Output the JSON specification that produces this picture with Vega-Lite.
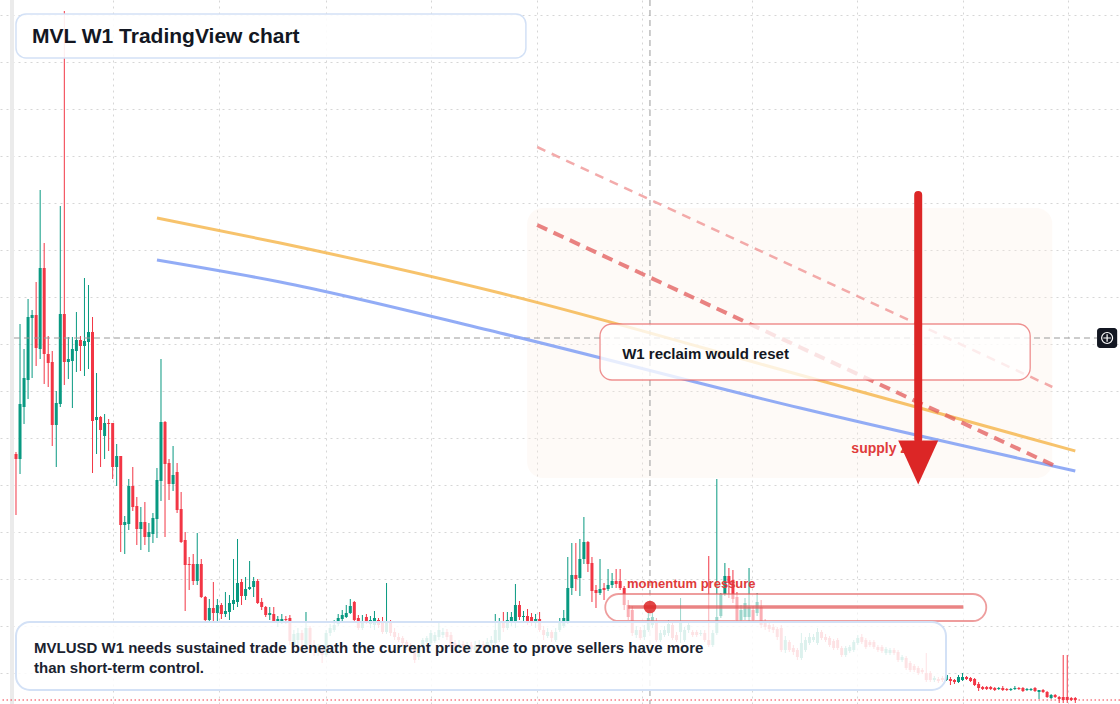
{
"$schema": "https://vega.github.io/schema/vega-lite/v6.json",
"width": 1120, "height": 704,
"autosize": {"type": "none"},
"padding": 0,
"background": "#ffffff",
"config": {"view": {"stroke": null}},
"datasets": {
"candles": [
{"i":0,"o":266,"h":268,"l":205,"c":261},{"i":1,"o":261,"h":396,"l":246,"c":316},{"i":2,"o":313,"h":371,"l":296,"c":342},{"i":3,"o":340,"h":421,"l":321,"c":403},{"i":4,"o":402,"h":410,"l":342,"c":405},{"i":5,"o":405,"h":438,"l":354,"c":372},{"i":6,"o":371,"h":530,"l":361,"c":452},{"i":7,"o":452,"h":477,"l":336,"c":366},{"i":8,"o":366,"h":384,"l":333,"c":357},{"i":9,"o":358,"h":369,"l":274,"c":295},
{"i":10,"o":295,"h":329,"l":253,"c":317},{"i":11,"o":316,"h":514,"l":313,"c":406},{"i":12,"o":406,"h":709,"l":335,"c":358},{"i":13,"o":358,"h":383,"l":341,"c":361},{"i":14,"o":359,"h":383,"l":312,"c":371},{"i":15,"o":369,"h":408,"l":348,"c":380},{"i":16,"o":380,"h":384,"l":349,"c":374},{"i":17,"o":374,"h":442,"l":344,"c":379},{"i":18,"o":378,"h":435,"l":351,"c":388},{"i":19,"o":388,"h":403,"l":247,"c":299},
{"i":20,"o":300,"h":347,"l":266,"c":303},{"i":21,"o":303,"h":304,"l":253,"c":290},{"i":22,"o":284,"h":306,"l":261,"c":297},{"i":23,"o":297,"h":301,"l":269,"c":296},{"i":24,"o":297,"h":297,"l":241,"c":253},{"i":25,"o":253,"h":276,"l":234,"c":264},{"i":26,"o":264,"h":264,"l":168,"c":195},{"i":27,"o":195,"h":204,"l":166,"c":198},{"i":28,"o":196,"h":241,"l":190,"c":234},{"i":29,"o":234,"h":253,"l":209,"c":213},
{"i":30,"o":214,"h":223,"l":175,"c":191},{"i":31,"o":191,"h":213,"l":170,"c":198},{"i":32,"o":198,"h":218,"l":175,"c":183},{"i":33,"o":183,"h":197,"l":168,"c":188},{"i":34,"o":186,"h":207,"l":177,"c":202},{"i":35,"o":201,"h":252,"l":182,"c":240},{"i":36,"o":239,"h":361,"l":219,"c":298},{"i":37,"o":298,"h":299,"l":183,"c":256},{"i":38,"o":257,"h":261,"l":220,"c":236},{"i":39,"o":236,"h":274,"l":229,"c":245},
{"i":40,"o":248,"h":257,"l":207,"c":210},{"i":41,"o":211,"h":228,"l":177,"c":178},{"i":42,"o":180,"h":188,"l":109,"c":155},{"i":43,"o":156,"h":163,"l":130,"c":155},{"i":44,"o":156,"h":166,"l":135,"c":139},{"i":45,"o":139,"h":187,"l":135,"c":156},{"i":46,"o":156,"h":161,"l":122,"c":123},{"i":47,"o":123,"h":124,"l":98,"c":100},{"i":48,"o":100,"h":121,"l":98,"c":112},{"i":49,"o":112,"h":138,"l":98,"c":107},
{"i":50,"o":107,"h":121,"l":98,"c":115},{"i":51,"o":115,"h":117,"l":101,"c":106},{"i":52,"o":106,"h":128,"l":103,"c":109},{"i":53,"o":108,"h":125,"l":100,"c":117},{"i":54,"o":116,"h":161,"l":110,"c":120},{"i":55,"o":118,"h":181,"l":113,"c":137},{"i":56,"o":138,"h":141,"l":115,"c":124},{"i":57,"o":124,"h":143,"l":120,"c":131},{"i":58,"o":131,"h":159,"l":130,"c":133},{"i":59,"o":133,"h":143,"l":123,"c":139},
{"i":60,"o":139,"h":141,"l":116,"c":117},{"i":61,"o":118,"h":122,"l":110,"c":113},{"i":62,"o":113,"h":114,"l":103,"c":105},{"i":63,"o":105,"h":113,"l":100,"c":107},{"i":64,"o":106,"h":113,"l":98,"c":99},{"i":65,"o":99,"h":104,"l":93,"c":101},{"i":66,"o":99,"h":106,"l":96,"c":101},{"i":67,"o":101,"h":104,"l":96,"c":100},{"i":68,"o":102,"h":105,"l":75,"c":79},{"i":69,"o":75,"h":90,"l":72,"c":86},
{"i":70,"o":80,"h":92,"l":75,"c":87},{"i":71,"o":87,"h":90,"l":74,"c":80},{"i":72,"o":75,"h":108,"l":72,"c":92},{"i":73,"o":92,"h":94,"l":70,"c":75},{"i":74,"o":75,"h":80,"l":64,"c":70},{"i":75,"o":68,"h":76,"l":64,"c":72},{"i":76,"o":72,"h":75,"l":57,"c":65},{"i":77,"o":65,"h":90,"l":63,"c":87},{"i":78,"o":87,"h":96,"l":84,"c":92},{"i":79,"o":90,"h":100,"l":88,"c":95},
{"i":80,"o":96,"h":106,"l":94,"c":102},{"i":81,"o":101,"h":110,"l":99,"c":105},{"i":82,"o":103,"h":115,"l":102,"c":107},{"i":83,"o":107,"h":121,"l":106,"c":114},{"i":84,"o":118,"h":119,"l":99,"c":100},{"i":85,"o":102,"h":105,"l":90,"c":92},{"i":86,"o":92,"h":105,"l":90,"c":98},{"i":87,"o":103,"h":106,"l":96,"c":98},{"i":88,"o":96,"h":104,"l":92,"c":100},{"i":89,"o":95,"h":109,"l":90,"c":102},
{"i":90,"o":100,"h":102,"l":92,"c":95},{"i":91,"o":98,"h":103,"l":86,"c":88},{"i":92,"o":88,"h":137,"l":86,"c":98},{"i":93,"o":98,"h":100,"l":84,"c":87},{"i":94,"o":88,"h":92,"l":80,"c":83},{"i":95,"o":83,"h":87,"l":78,"c":80},{"i":96,"o":82,"h":84,"l":74,"c":77},{"i":97,"o":78,"h":80,"l":70,"c":73},{"i":98,"o":75,"h":77,"l":68,"c":72},{"i":99,"o":72,"h":74,"l":57,"c":60},
{"i":100,"o":63,"h":75,"l":60,"c":73},{"i":101,"o":75,"h":82,"l":72,"c":80},{"i":102,"o":78,"h":84,"l":75,"c":82},{"i":103,"o":77,"h":90,"l":74,"c":87},{"i":104,"o":79,"h":88,"l":77,"c":85},{"i":105,"o":83,"h":97,"l":80,"c":90},{"i":106,"o":85,"h":92,"l":82,"c":88},{"i":107,"o":88,"h":91,"l":80,"c":83},{"i":108,"o":85,"h":88,"l":72,"c":75},{"i":109,"o":77,"h":80,"l":70,"c":74},
{"i":110,"o":72,"h":80,"l":69,"c":76},{"i":111,"o":76,"h":79,"l":68,"c":72},{"i":112,"o":70,"h":78,"l":68,"c":75},{"i":113,"o":75,"h":78,"l":68,"c":71},{"i":114,"o":70,"h":79,"l":68,"c":74},{"i":115,"o":73,"h":80,"l":70,"c":76},{"i":116,"o":76,"h":79,"l":68,"c":72},{"i":117,"o":72,"h":82,"l":70,"c":78},{"i":118,"o":77,"h":84,"l":74,"c":80},{"i":119,"o":77,"h":106,"l":75,"c":90},
{"i":120,"o":80,"h":102,"l":78,"c":98},{"i":121,"o":98,"h":108,"l":88,"c":92},{"i":122,"o":92,"h":108,"l":90,"c":100},{"i":123,"o":98,"h":108,"l":94,"c":103},{"i":124,"o":98,"h":136,"l":92,"c":115},{"i":125,"o":115,"h":119,"l":100,"c":103},{"i":126,"o":103,"h":109,"l":98,"c":104},{"i":127,"o":104,"h":111,"l":95,"c":99},{"i":128,"o":103,"h":107,"l":94,"c":99},{"i":129,"o":98,"h":106,"l":92,"c":101},
{"i":130,"o":101,"h":108,"l":88,"c":90},{"i":131,"o":90,"h":94,"l":80,"c":85},{"i":132,"o":84,"h":92,"l":82,"c":88},{"i":133,"o":88,"h":90,"l":78,"c":82},{"i":134,"o":80,"h":92,"l":78,"c":88},{"i":135,"o":90,"h":102,"l":88,"c":98},{"i":136,"o":94,"h":110,"l":92,"c":102},{"i":137,"o":98,"h":163,"l":96,"c":132},{"i":138,"o":132,"h":177,"l":125,"c":145},{"i":139,"o":145,"h":177,"l":129,"c":141},
{"i":140,"o":142,"h":181,"l":124,"c":161},{"i":141,"o":161,"h":203,"l":156,"c":178},{"i":142,"o":178,"h":179,"l":148,"c":156},{"i":143,"o":157,"h":163,"l":118,"c":129},{"i":144,"o":130,"h":135,"l":112,"c":127},{"i":145,"o":127,"h":161,"l":125,"c":131},{"i":146,"o":132,"h":137,"l":120,"c":130},{"i":147,"o":131,"h":151,"l":129,"c":135},{"i":148,"o":135,"h":147,"l":132,"c":139},{"i":149,"o":139,"h":151,"l":132,"c":136},
{"i":150,"o":139,"h":151,"l":130,"c":132},{"i":151,"o":132,"h":134,"l":110,"c":115},{"i":152,"o":115,"h":120,"l":100,"c":103},{"i":153,"o":110,"h":114,"l":84,"c":87},{"i":154,"o":85,"h":94,"l":82,"c":90},{"i":155,"o":90,"h":93,"l":80,"c":82},{"i":156,"o":83,"h":95,"l":80,"c":90},{"i":157,"o":90,"h":108,"l":88,"c":102},{"i":158,"o":95,"h":107,"l":92,"c":103},{"i":159,"o":98,"h":102,"l":78,"c":80},
{"i":160,"o":80,"h":90,"l":78,"c":87},{"i":161,"o":85,"h":94,"l":83,"c":90},{"i":162,"o":87,"h":100,"l":84,"c":96},{"i":163,"o":95,"h":98,"l":80,"c":82},{"i":164,"o":85,"h":88,"l":78,"c":80},{"i":165,"o":88,"h":122,"l":77,"c":97},{"i":166,"o":80,"h":93,"l":78,"c":90},{"i":167,"o":90,"h":98,"l":87,"c":95},{"i":168,"o":88,"h":90,"l":83,"c":85},{"i":169,"o":88,"h":90,"l":83,"c":85},
{"i":170,"o":86,"h":90,"l":84,"c":87},{"i":171,"o":87,"h":90,"l":78,"c":80},{"i":172,"o":80,"h":164,"l":73,"c":75},{"i":173,"o":75,"h":90,"l":73,"c":87},{"i":174,"o":87,"h":241,"l":85,"c":103},{"i":175,"o":104,"h":127,"l":102,"c":126},{"i":176,"o":126,"h":157,"l":124,"c":144},{"i":177,"o":144,"h":152,"l":122,"c":137},{"i":178,"o":140,"h":150,"l":117,"c":121},{"i":179,"o":123,"h":128,"l":98,"c":100},
{"i":180,"o":100,"h":115,"l":98,"c":110},{"i":181,"o":103,"h":122,"l":100,"c":117},{"i":182,"o":103,"h":152,"l":98,"c":113},{"i":183,"o":110,"h":114,"l":98,"c":100},{"i":184,"o":107,"h":127,"l":104,"c":118},{"i":185,"o":113,"h":120,"l":92,"c":95},{"i":186,"o":98,"h":101,"l":90,"c":93},{"i":187,"o":95,"h":98,"l":88,"c":91},{"i":188,"o":93,"h":96,"l":87,"c":90},{"i":189,"o":91,"h":93,"l":80,"c":83},
{"i":190,"o":92,"h":95,"l":68,"c":70},{"i":191,"o":70,"h":84,"l":67,"c":80},{"i":192,"o":78,"h":80,"l":68,"c":70},{"i":193,"o":72,"h":75,"l":65,"c":68},{"i":194,"o":70,"h":72,"l":60,"c":63},{"i":195,"o":62,"h":87,"l":60,"c":77},{"i":196,"o":70,"h":83,"l":68,"c":80},{"i":197,"o":77,"h":87,"l":75,"c":83},{"i":198,"o":80,"h":86,"l":78,"c":83},{"i":199,"o":77,"h":92,"l":75,"c":88},
{"i":200,"o":88,"h":90,"l":80,"c":82},{"i":201,"o":83,"h":86,"l":78,"c":80},{"i":202,"o":82,"h":84,"l":73,"c":75},{"i":203,"o":79,"h":81,"l":70,"c":72},{"i":204,"o":80,"h":82,"l":70,"c":72},{"i":205,"o":72,"h":74,"l":63,"c":65},{"i":206,"o":65,"h":74,"l":63,"c":72},{"i":207,"o":69,"h":75,"l":67,"c":73},{"i":208,"o":70,"h":80,"l":68,"c":78},{"i":209,"o":77,"h":85,"l":75,"c":82},
{"i":210,"o":83,"h":86,"l":76,"c":78},{"i":211,"o":80,"h":82,"l":71,"c":73},{"i":212,"o":78,"h":80,"l":73,"c":75},{"i":213,"o":78,"h":80,"l":71,"c":73},{"i":214,"o":73,"h":75,"l":68,"c":70},{"i":215,"o":73,"h":75,"l":67,"c":69},{"i":216,"o":67,"h":73,"l":65,"c":71},{"i":217,"o":67,"h":72,"l":65,"c":70},{"i":218,"o":70,"h":72,"l":65,"c":67},{"i":219,"o":68,"h":70,"l":58,"c":60},
{"i":220,"o":60,"h":65,"l":58,"c":63},{"i":221,"o":62,"h":64,"l":50,"c":52},{"i":222,"o":57,"h":59,"l":48,"c":50},{"i":223,"o":54,"h":56,"l":48,"c":50},{"i":224,"o":52,"h":54,"l":45,"c":47},{"i":225,"o":50,"h":52,"l":46,"c":48},{"i":226,"o":47,"h":67,"l":38,"c":40},{"i":227,"o":47,"h":49,"l":38,"c":40},{"i":228,"o":40,"h":44,"l":38,"c":42},{"i":229,"o":41,"h":43,"l":37,"c":39},
{"i":230,"o":42,"h":44,"l":38,"c":40},{"i":231,"o":40,"h":47,"l":39,"c":45},{"i":232,"o":41,"h":43,"l":35,"c":39},{"i":233,"o":40,"h":41,"l":36,"c":38},{"i":234,"o":38,"h":45,"l":37,"c":43},{"i":235,"o":40,"h":47,"l":39,"c":43},{"i":236,"o":43,"h":44,"l":40,"c":41},{"i":237,"o":42,"h":43,"l":38,"c":39},{"i":238,"o":41,"h":42,"l":34,"c":35},{"i":239,"o":36,"h":38,"l":29,"c":32},
{"i":240,"o":33,"h":34,"l":30,"c":31},{"i":241,"o":33,"h":34,"l":30,"c":31},{"i":242,"o":33,"h":34,"l":30,"c":31},{"i":243,"o":32,"h":33,"l":29,"c":30},{"i":244,"o":31,"h":33,"l":30,"c":32},{"i":245,"o":32,"h":34,"l":29,"c":30},{"i":246,"o":31,"h":32,"l":29,"c":30},{"i":247,"o":30,"h":32,"l":29,"c":31},{"i":248,"o":31,"h":34,"l":30,"c":32},{"i":249,"o":32,"h":33,"l":30,"c":31},
{"i":250,"o":32,"h":33,"l":28,"c":29},{"i":251,"o":30,"h":32,"l":29,"c":31},{"i":252,"o":30,"h":32,"l":29,"c":31},{"i":253,"o":32,"h":33,"l":28,"c":29},{"i":254,"o":28,"h":30,"l":21,"c":30},{"i":255,"o":30,"h":31,"l":27,"c":28},{"i":256,"o":28,"h":29,"l":22,"c":23},{"i":257,"o":22,"h":26,"l":21,"c":25},{"i":258,"o":25,"h":26,"l":22,"c":23},{"i":259,"o":23,"h":24,"l":17,"c":21},
{"i":260,"o":23,"h":65,"l":17,"c":20},{"i":261,"o":23,"h":65,"l":17,"c":20},{"i":262,"o":22,"h":23,"l":19,"c":20},{"i":263,"o":22,"h":23,"l":17,"c":20}
],
"strip": [{"i":-1.49,"i2":-0.5,"p":16,"p2":720}],
"zone": [{"i":126.9,"i2":257.3,"p":512,"p2":242}],
"now": [{"p":20}],
"crossV": [{"i":157.4}],
"crossH": [{"i":-0.5,"i2":268.4,"p":382}],
"orange": [{"i":35.0,"p":502},{"i":65.6,"p":477},{"i":120.2,"p":427},{"i":194.7,"p":345},{"i":263.0,"p":269}],
"blue": [{"i":35.0,"p":460},{"i":65.6,"p":438},{"i":120.2,"p":387},{"i":194.7,"p":312},{"i":263.0,"p":249}],
"dashThin": [{"i":129.4,"p":573,"i2":257.3,"p2":333}],
"dashThick": [{"i":129.4,"p":495,"i2":258.0,"p2":254}],
"reclaimBox": [{"i":145.0,"i2":251.8,"p":396,"p2":340}],
"reclaimText": [{"i":150.5,"p":361,"label":"W1 reclaim would reset"}],
"pill": [{"i":146.3,"i2":240.9,"p":126,"p2":99}],
"pillLine": [{"i":152.0,"i2":235.2,"p":113}],
"pillDot": [{"i":157.4,"p":113}],
"pillText": [{"i":151.7,"p":132,"label":"momentum pressure"}],
"supplyText": [{"i":207.4,"p":267,"label":"supply zone"}],
"arrow": [{"i":224.0,"p":525,"p2":281}],
"arrowHead": [{"i":224.0,"p":257.5}],
"noteBox": [{"i":0,"i2":230.9,"p":98,"p2":30}],
"noteText": [{"i":4.47,"p":67,"label":"MVLUSD W1 needs sustained trade beneath the current price zone to prove sellers have more"},{"i":4.47,"p":47,"label":"than short-term control."}],
"titleBox": [{"i":0,"i2":126.6,"p":706,"p2":662}],
"titleText": [{"i":3.97,"p":677,"label":"MVL W1 TradingView chart"}],
"plusBox": [{"i":268.4,"i2":273.4,"p":392,"p2":372}],
"plusIcon": [{"i":270.9,"p":382}]
},
"layer": [
{"data": {"name": "strip"}, "mark": {"type": "rect", "color": "#ebebeb"},
 "encoding": {"x": {"field": "i", "type": "quantitative", "scale": {"domain": [-3.97, 274.1], "nice": false, "zero": false, "padding": 0},
   "axis": {"title": null, "labels": false, "ticks": false, "domain": false, "grid": true, "gridColor": "#d6d6d6", "gridDash": [2, 4], "values": [24.09, 50.41, 76.98, 103.05, 129.3, 155.4, 182.7, 208.8, 235.2, 261.2]}},
  "x2": {"field": "i2"},
  "y": {"field": "p", "type": "quantitative", "scale": {"domain": [16, 720], "nice": false, "zero": false, "padding": 0},
   "axis": {"title": null, "labels": false, "ticks": false, "domain": false, "grid": true, "gridColor": "#d6d6d6", "gridDash": [2, 4], "values": [47, 94, 141, 188, 235, 282, 329, 376, 423, 470, 517, 564, 611, 658, 705]}},
  "y2": {"field": "p2"}}},
{"data": {"name": "zone"}, "mark": {"type": "rect", "color": "#fbf0e6", "opacity": 0.3, "cornerRadius": 16},
 "encoding": {"x": {"field": "i", "type": "quantitative"}, "x2": {"field": "i2"}, "y": {"field": "p", "type": "quantitative"}, "y2": {"field": "p2"}}},
{"data": {"name": "candles"}, "mark": {"type": "rule", "strokeWidth": 1},
 "encoding": {"x": {"field": "i", "type": "quantitative"}, "y": {"field": "l", "type": "quantitative"}, "y2": {"field": "h"},
  "color": {"condition": {"test": "datum.c >= datum.o", "value": "#089981"}, "value": "#f23645"}}},
{"data": {"name": "candles"}, "mark": {"type": "bar", "width": 3},
 "encoding": {"x": {"field": "i", "type": "quantitative"}, "y": {"field": "o", "type": "quantitative"}, "y2": {"field": "c"},
  "color": {"condition": {"test": "datum.c >= datum.o", "value": "#089981"}, "value": "#f23645"}}},
{"data": {"name": "now"}, "mark": {"type": "rule", "color": "#f23645", "strokeWidth": 1, "strokeDash": [1.5, 2.5]},
 "encoding": {"y": {"field": "p", "type": "quantitative"}}},
{"data": {"name": "crossV"}, "mark": {"type": "rule", "color": "#9a9a9a", "strokeWidth": 1, "strokeDash": [6, 4]},
 "encoding": {"x": {"field": "i", "type": "quantitative"}}},
{"data": {"name": "crossH"}, "mark": {"type": "rule", "color": "#9a9a9a", "strokeWidth": 1, "strokeDash": [6, 4]},
 "encoding": {"x": {"field": "i", "type": "quantitative"}, "x2": {"field": "i2"}, "y": {"field": "p", "type": "quantitative"}}},
{"data": {"name": "orange"}, "mark": {"type": "line", "color": "#f5b447", "opacity": 0.8, "strokeWidth": 3, "interpolate": "monotone"},
 "encoding": {"x": {"field": "i", "type": "quantitative"}, "y": {"field": "p", "type": "quantitative"}}},
{"data": {"name": "blue"}, "mark": {"type": "line", "color": "#7f9df4", "opacity": 0.85, "strokeWidth": 3, "interpolate": "monotone"},
 "encoding": {"x": {"field": "i", "type": "quantitative"}, "y": {"field": "p", "type": "quantitative"}}},
{"data": {"name": "dashThin"}, "mark": {"type": "rule", "color": "#ef8f8f", "opacity": 0.75, "strokeWidth": 2.5, "strokeDash": [9, 7]},
 "encoding": {"x": {"field": "i", "type": "quantitative"}, "x2": {"field": "i2"}, "y": {"field": "p", "type": "quantitative"}, "y2": {"field": "p2"}}},
{"data": {"name": "dashThick"}, "mark": {"type": "rule", "color": "#e25a5a", "opacity": 0.75, "strokeWidth": 4, "strokeDash": [11, 7]},
 "encoding": {"x": {"field": "i", "type": "quantitative"}, "x2": {"field": "i2"}, "y": {"field": "p", "type": "quantitative"}, "y2": {"field": "p2"}}},
{"data": {"name": "reclaimBox"}, "mark": {"type": "rect", "fill": "#ffffff", "fillOpacity": 0.78, "stroke": "#e86b6b", "strokeOpacity": 0.75, "strokeWidth": 1.3, "cornerRadius": 12},
 "encoding": {"x": {"field": "i", "type": "quantitative"}, "x2": {"field": "i2"}, "y": {"field": "p", "type": "quantitative"}, "y2": {"field": "p2"}}},
{"data": {"name": "reclaimText"}, "mark": {"type": "text", "align": "left", "baseline": "alphabetic", "font": "Liberation Sans", "fontSize": 15, "fontWeight": "bold", "color": "#131722"},
 "encoding": {"x": {"field": "i", "type": "quantitative"}, "y": {"field": "p", "type": "quantitative"}, "text": {"field": "label"}}},
{"data": {"name": "pill"}, "mark": {"type": "rect", "fill": "#ffffff", "fillOpacity": 0.6, "stroke": "#e35b5b", "strokeOpacity": 0.6, "strokeWidth": 1.8, "cornerRadius": 13.5},
 "encoding": {"x": {"field": "i", "type": "quantitative"}, "x2": {"field": "i2"}, "y": {"field": "p", "type": "quantitative"}, "y2": {"field": "p2"}}},
{"data": {"name": "pillLine"}, "mark": {"type": "rule", "color": "#e35b5b", "opacity": 0.75, "strokeWidth": 3.5},
 "encoding": {"x": {"field": "i", "type": "quantitative"}, "x2": {"field": "i2"}, "y": {"field": "p", "type": "quantitative"}}},
{"data": {"name": "pillDot"}, "mark": {"type": "point", "shape": "circle", "filled": true, "size": 160, "color": "#dc2626", "opacity": 0.85, "strokeWidth": 0},
 "encoding": {"x": {"field": "i", "type": "quantitative"}, "y": {"field": "p", "type": "quantitative"}}},
{"data": {"name": "pillText"}, "mark": {"type": "text", "align": "left", "baseline": "alphabetic", "font": "Liberation Sans", "fontSize": 13, "fontWeight": "bold", "color": "#e03b3b"},
 "encoding": {"x": {"field": "i", "type": "quantitative"}, "y": {"field": "p", "type": "quantitative"}, "text": {"field": "label"}}},
{"data": {"name": "supplyText"}, "mark": {"type": "text", "align": "left", "baseline": "alphabetic", "font": "Liberation Sans", "fontSize": 14, "fontWeight": "bold", "color": "#e03b3b"},
 "encoding": {"x": {"field": "i", "type": "quantitative"}, "y": {"field": "p", "type": "quantitative"}, "text": {"field": "label"}}},
{"data": {"name": "arrow"}, "mark": {"type": "rule", "color": "#dc2626", "strokeWidth": 8, "strokeCap": "round"},
 "encoding": {"x": {"field": "i", "type": "quantitative"}, "y": {"field": "p", "type": "quantitative"}, "y2": {"field": "p2"}}},
{"data": {"name": "arrowHead"}, "mark": {"type": "point", "shape": "M-1,-1.1L1,-1.1L0,1.1Z", "filled": true, "size": 1600, "color": "#dc2626", "opacity": 1, "strokeWidth": 0},
 "encoding": {"x": {"field": "i", "type": "quantitative"}, "y": {"field": "p", "type": "quantitative"}}},
{"data": {"name": "noteBox"}, "mark": {"type": "rect", "fill": "#ffffff", "fillOpacity": 0.86, "stroke": "#d3e1f6", "strokeWidth": 2, "cornerRadius": 14},
 "encoding": {"x": {"field": "i", "type": "quantitative"}, "x2": {"field": "i2"}, "y": {"field": "p", "type": "quantitative"}, "y2": {"field": "p2"}}},
{"data": {"name": "noteText"}, "mark": {"type": "text", "align": "left", "baseline": "alphabetic", "font": "Liberation Sans", "fontSize": 15, "fontWeight": "bold", "color": "#1b2330"},
 "encoding": {"x": {"field": "i", "type": "quantitative"}, "y": {"field": "p", "type": "quantitative"}, "text": {"field": "label"}}},
{"data": {"name": "titleBox"}, "mark": {"type": "rect", "fill": "#ffffff", "fillOpacity": 0.9, "stroke": "#d3e1f6", "strokeWidth": 1.5, "cornerRadius": 10},
 "encoding": {"x": {"field": "i", "type": "quantitative"}, "x2": {"field": "i2"}, "y": {"field": "p", "type": "quantitative"}, "y2": {"field": "p2"}}},
{"data": {"name": "titleText"}, "mark": {"type": "text", "align": "left", "baseline": "alphabetic", "font": "Liberation Sans", "fontSize": 21, "fontWeight": "bold", "color": "#131722"},
 "encoding": {"x": {"field": "i", "type": "quantitative"}, "y": {"field": "p", "type": "quantitative"}, "text": {"field": "label"}}},
{"data": {"name": "plusBox"}, "mark": {"type": "rect", "color": "#131722", "cornerRadius": 3},
 "encoding": {"x": {"field": "i", "type": "quantitative"}, "x2": {"field": "i2"}, "y": {"field": "p", "type": "quantitative"}, "y2": {"field": "p2"}}},
{"data": {"name": "plusIcon"}, "mark": {"type": "point", "shape": "circle", "filled": false, "size": 120, "stroke": "#ffffff", "strokeWidth": 1.2, "opacity": 1},
 "encoding": {"x": {"field": "i", "type": "quantitative"}, "y": {"field": "p", "type": "quantitative"}}},
{"data": {"name": "plusIcon"}, "mark": {"type": "point", "shape": "M-1,0L1,0M0,-1L0,1", "filled": false, "size": 56, "stroke": "#ffffff", "strokeWidth": 1.2, "opacity": 1},
 "encoding": {"x": {"field": "i", "type": "quantitative"}, "y": {"field": "p", "type": "quantitative"}}}
]
}
